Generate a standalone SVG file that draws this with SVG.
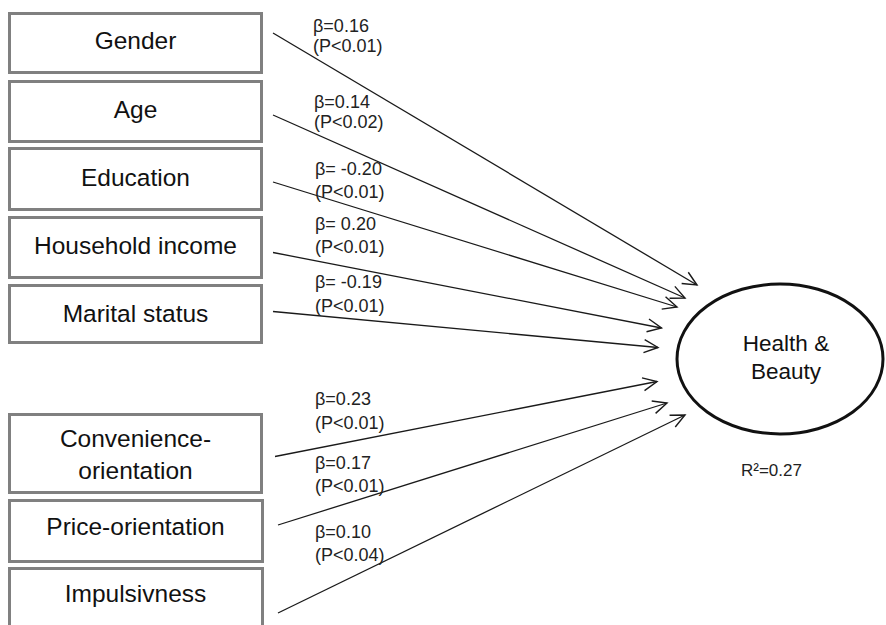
<svg xmlns="http://www.w3.org/2000/svg" width="886" height="625" viewBox="0 0 886 625">
<style>
.box{fill:#fff;stroke:#808080;stroke-width:3}
.nt{font-family:"Liberation Sans",Arial,sans-serif;font-size:24.5px;fill:#111;text-anchor:middle}
.lb{font-family:"Liberation Sans",Arial,sans-serif;font-size:18px;fill:#222}
.cn{stroke:#1a1a1a;stroke-width:1.3;fill:none;marker-end:url(#ah)}
</style>
<defs>
<marker id="ah" viewBox="-16 -8 18 16" refX="0" refY="0" markerWidth="18" markerHeight="16" markerUnits="userSpaceOnUse" orient="auto">
<path d="M-14,-6.5 L0,0 L-14,6.5" fill="none" stroke="#1a1a1a" stroke-width="1.4"/>
</marker>
</defs>
<rect width="886" height="625" fill="#fff"/>
<g id="gender"><rect class="box" x="9.5" y="13.5" width="252" height="59"/><text class="nt" x="135.5" y="49">Gender</text></g>
<g id="age"><rect class="box" x="9.5" y="81.5" width="252" height="60"/><text class="nt" x="135.5" y="118">Age</text></g>
<g id="education"><rect class="box" x="9.5" y="148.5" width="252" height="61"/><text class="nt" x="135.5" y="185.5">Education</text></g>
<g id="household"><rect class="box" x="9.5" y="217.5" width="252" height="60"/><text class="nt" x="135.5" y="254">Household income</text></g>
<g id="marital"><rect class="box" x="9.5" y="285.5" width="252" height="57"/><text class="nt" x="135.5" y="321.5">Marital status</text></g>
<g id="convenience"><rect class="box" x="9.5" y="414.5" width="252" height="78"/><text class="nt" x="135.5" y="446.5">Convenience-</text><text class="nt" x="135.5" y="479">orientation</text></g>
<g id="price"><rect class="box" x="9.5" y="500.5" width="253" height="61"/><text class="nt" x="135.5" y="535">Price-orientation</text></g>
<g id="impulsivness"><rect class="box" x="9.5" y="568.5" width="253" height="62"/><text class="nt" x="135.5" y="601.5">Impulsivness</text></g>
<g id="health"><ellipse cx="780" cy="359" rx="103" ry="75" fill="#fff" stroke="#111" stroke-width="3"/><text class="nt" style="font-size:22.5px" x="786" y="351">Health &amp;</text><text class="nt" style="font-size:22.5px" x="786" y="379">Beauty</text><text class="lb" style="font-size:17px" x="741" y="476">R²=0.27</text></g>
<g id="connectors">
<line class="cn" x1="273" y1="33" x2="697" y2="285"/>
<line class="cn" x1="273" y1="115" x2="685" y2="298"/>
<line class="cn" x1="273" y1="182" x2="677" y2="307"/>
<line class="cn" x1="273" y1="252.5" x2="661.5" y2="328"/>
<line class="cn" x1="273" y1="311.5" x2="658" y2="347.5"/>
<line class="cn" x1="275" y1="456.5" x2="657" y2="381.5"/>
<line class="cn" x1="278" y1="525" x2="667" y2="403"/>
<line class="cn" x1="278" y1="613" x2="685" y2="415"/>
</g>
<g id="labels">
<text class="lb" x="313" y="32">β=0.16</text><text class="lb" x="313" y="52">(P&lt;0.01)</text>
<text class="lb" x="314" y="108">β=0.14</text><text class="lb" x="314" y="128">(P&lt;0.02)</text>
<text class="lb" x="315" y="175">β= -0.20</text><text class="lb" x="315" y="198">(P&lt;0.01)</text>
<text class="lb" x="315" y="230">β= 0.20</text><text class="lb" x="315" y="253">(P&lt;0.01)</text>
<text class="lb" x="315" y="288">β= -0.19</text><text class="lb" x="315" y="312">(P&lt;0.01)</text>
<text class="lb" x="315" y="405">β=0.23</text><text class="lb" x="315" y="429">(P&lt;0.01)</text>
<text class="lb" x="315" y="469">β=0.17</text><text class="lb" x="315" y="492">(P&lt;0.01)</text>
<text class="lb" x="315" y="538">β=0.10</text><text class="lb" x="315" y="561">(P&lt;0.04)</text>
</g>
</svg>
